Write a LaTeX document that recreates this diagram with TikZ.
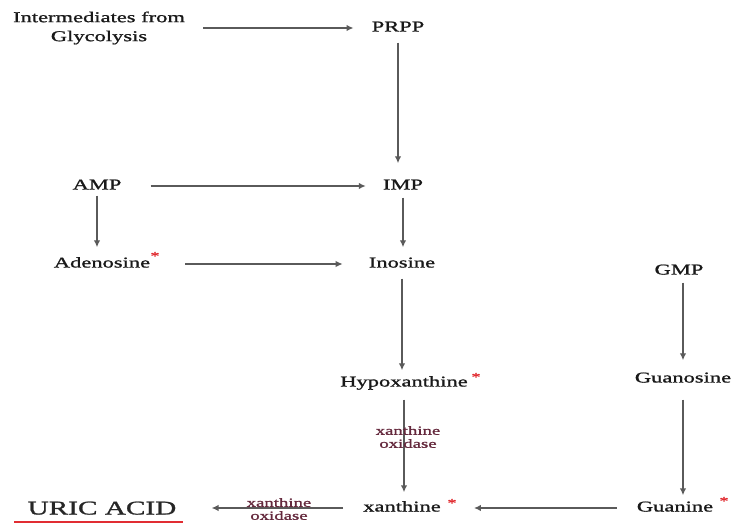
\documentclass[tikz,border=0pt]{standalone}
\usepackage{fontspec}
\setmainfont{Liberation Serif}[FakeStretch=1.5,FakeBold=1.2]
\usetikzlibrary{arrows.meta}

\definecolor{arrowgray}{RGB}{90,90,90}
\definecolor{enzyme}{RGB}{100,40,60}
\definecolor{starred}{RGB}{225,45,50}

\tikzset{
  met/.style={inner sep=0pt, text height=10pt, text depth=3pt, text=black!90, font=\fontsize{15}{18}\selectfont},
  flow/.style={draw=arrowgray, line width=1.9pt, -{Latex[length=7pt,width=6.5pt]}, shorten <=8pt, shorten >=10pt},
  enz/.style={inner sep=0pt, align=center, text=enzyme, font=\fontsize{12.5}{13}\selectfont},
  starmark/.style={inner sep=0pt, text=starred, font=\fontsize{12}{12}\selectfont}
}

\begin{document}
\begin{tikzpicture}[x=1pt,y=-1pt]
        \useasboundingbox (0,0) rectangle (734,529);

        % Metabolites
        \node[inner sep=0pt, align=center, text=black!90, font=\fontsize{15}{19}\selectfont] (inter) at (99,28) {Intermediates from\\Glycolysis};
        \node[met] (prpp) at (398,28) {PRPP};
        \node[met] (amp) at (97,186) {AMP};
        \node[met] (imp) at (403,186) {IMP};
        \node[met] (adeno) at (102,264) {Adenosine};
        \node[met] (inosine) at (402,264) {Inosine};
        \node[met] (gmp) at (679,271) {GMP};
        \node[met] (guanosine) at (683,379) {Guanosine};
        \node[met] (hypox) at (404,383) {Hypoxanthine};
        \node[met] (xanth) at (402,508) {xanthine};
        \node[met] (guanine) at (675,508) {Guanine};
        \node[inner sep=0pt, text height=13pt, text depth=0pt, text=black!85, font=\fontsize{19.5}{22}\selectfont] (uric) at (102,508) {URIC ACID};

        % Red stars
        \node[starmark] (adenostar) at (155,256) {*};
        \node[starmark] (hypoxstar) at (476,377) {*};
        \node[starmark] (xanthstar) at (452,503) {*};
        \node[starmark] (guaninestar) at (724,501) {*};

        % Pathway arrows
        \draw[flow, shorten <=18pt, shorten >=18pt] (inter) -- (inter -| prpp.west);
        \draw[flow, shorten >=16pt] (prpp) -- (prpp |- imp.north);
        \draw[flow, shorten <=29pt, shorten >=17pt] (amp) -- (imp);
        \draw[flow, shorten <=3pt] (amp) -- (amp |- adeno.north);
        \draw[flow, shorten <=35pt, shorten >=26pt] (adeno) -- (inosine);
        \draw[flow, shorten <=5pt] (imp) -- (imp |- inosine.north);
        \draw[flow, shorten >=6pt] (inosine) -- (inosine |- hypox.north);
        \draw[flow, shorten <=10pt, shorten >=9pt] (hypox) -- (hypox |- xanth.north);
        \draw[flow, shorten <=5pt, shorten >=12pt] (guanosine |- gmp.south) -- (guanosine);
        \draw[flow, shorten <=14pt, shorten >=6pt] (guanosine) -- (guanosine |- guanine.north);
        \draw[flow, shorten <=20pt, shorten >=33pt] (guanine) -- (xanth);
        \draw[flow, shorten <=20pt, shorten >=35pt] (xanth) -- (uric);

        % Enzyme labels
        \node[enz] (oxvert) at (408,437) {xanthine\\oxidase};
        \node[enz] (oxhoriz) at (279,509) {xanthine\\oxidase};

        % Underline
        \draw[starred, line width=1.6pt] ([xshift=-13pt,yshift=-7.5pt]uric.south west) -- ([xshift=6pt,yshift=-7.5pt]uric.south east);

\end{tikzpicture}
\end{document}
